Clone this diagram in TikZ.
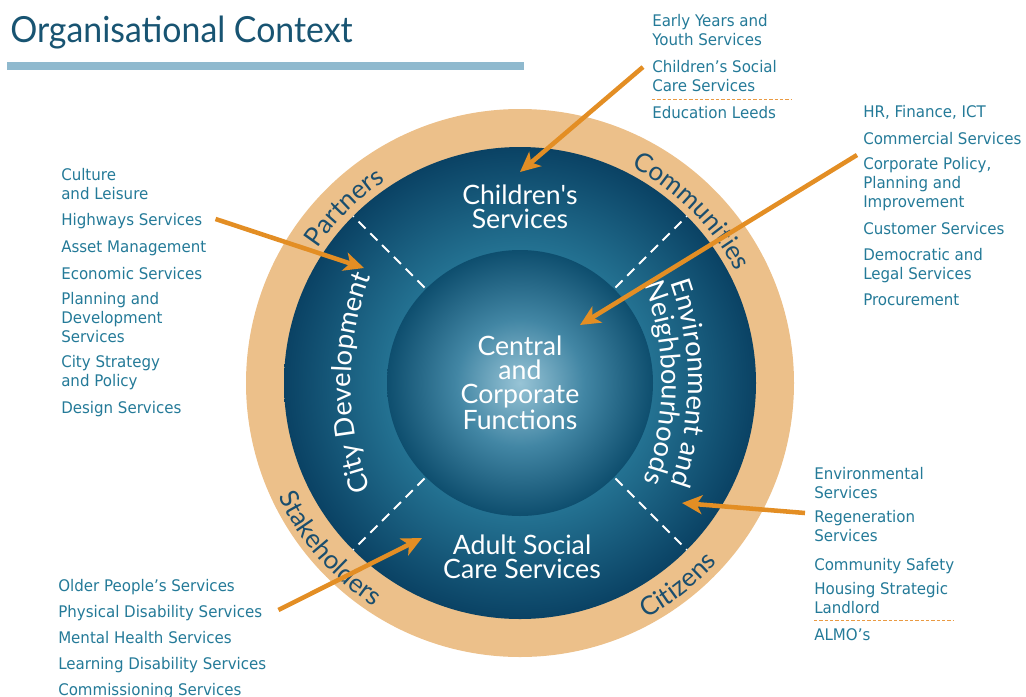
\documentclass[tikz,border=0pt]{standalone}
\usepackage{fontspec}
\usetikzlibrary{arrows.meta,decorations.text}
\newfontfamily\listfont{DejaVu Sans}[FakeStretch=0.94]
\newfontfamily\headfont{Lato}
\newfontfamily\titlefont{Lato}[FakeStretch=0.94]
\definecolor{tanring}{RGB}{236,192,138}
\definecolor{ringdark}{RGB}{10,66,100}
\definecolor{ringlight}{RGB}{36,114,146}
\definecolor{coredark}{RGB}{14,78,110}
\definecolor{coremid}{RGB}{66,134,164}
\definecolor{corelight}{RGB}{152,196,214}
\definecolor{listblue}{RGB}{36,122,152}
\definecolor{titleblue}{RGB}{24,84,114}
\definecolor{ringtext}{RGB}{26,78,110}
\definecolor{barblue}{RGB}{143,185,206}
\definecolor{arroworange}{RGB}{227,142,36}
\definecolor{sepdash}{RGB}{234,154,66}
\pgfdeclareradialshading{bandshade}{\pgfpoint{0bp}{0bp}}{%
  color(0bp)=(ringlight); color(14bp)=(ringlight);
  color(25bp)=(ringdark); color(50bp)=(ringdark)}
\pgfdeclareradialshading{coreshade}{\pgfpoint{0bp}{0bp}}{%
  color(0bp)=(corelight); color(12bp)=(coremid);
  color(25bp)=(coredark); color(50bp)=(coredark)}

\begin{document}
\begin{tikzpicture}[x=0.75pt,y=0.75pt,
    listitem/.style={anchor=base west,inner sep=0pt,align=left,
      font=\listfont\fontsize{12}{13.9}\selectfont,text=listblue},
    unitname/.style={align=center,inner sep=0pt,text=white,
      font=\headfont\fontsize{20}{18}\selectfont},
    feed/.style={arroworange,line width=3.4pt,
      -{Stealth[length=15pt,width=14pt,inset=4pt]}},
    sepline/.style={sepdash,line width=0.7pt,dash pattern=on 2.5pt off 1.5pt},
    ringword/.style={decorate,decoration={text along path,text align=center,
      text color=ringtext,text={|\headfont\fontsize{19.5}{19}\selectfont|#1}}},
    bandword/.style={decorate,decoration={text along path,text align=center,
      text color=white,text={|\headfont\fontsize{20.5}{20}\selectfont|#1}}}]
    \useasboundingbox (0,0) rectangle (1026,-697);

    % heading
    \node[anchor=base west,inner sep=0pt,text=titleblue,
      font=\titlefont\fontsize{27}{30}\selectfont] (title) at (10,-42)
      {Organisational Context};
    \fill[barblue] (7,-62) rectangle (524,-70);

    % the rings
    \coordinate (ctr) at (520,-383);
    \fill[tanring] (ctr) circle[radius=274];
    \shade[shading=bandshade] (ctr) circle[radius=236];
    \shade[shading=coreshade] (ctr) circle[radius=133];
    \foreach \a in {45,135,225,315}
    {
      \draw[white,line width=1.5pt,dash pattern=on 7.5pt off 5pt]
        ([shift={(\a:135)}]ctr) -- ([shift={(\a:236)}]ctr);
    }

    % outer ring words
    \path[ringword=Partners]
      ([shift={(175:243)}]ctr) arc[start angle=175,end angle=95,radius=243];
    \path[ringword=Communities]
      ([shift={(85:243)}]ctr) arc[start angle=85,end angle=5,radius=243];
    \path[ringword=Stakeholders]
      ([shift={(181:267)}]ctr) arc[start angle=181,end angle=261,radius=267];
    \path[ringword=Citizens]
      ([shift={(-92:267)}]ctr) arc[start angle=-92,end angle=-12,radius=267];

    % directorates
    \node[unitname] (child) at (520,-207)
      {Children\textquotesingle s\\Services};
    \node[unitname] (central) at (520,-383)
      {Central\\and\\Corporate\\Functions};
    \node[unitname] (adult) at (522,-557) {Adult Social\\Care Services};
    \coordinate (citybend) at (651,-383);
    \path[bandword={City Development}]
      ([shift={(200:300)}]citybend) arc[start angle=200,end angle=160,radius=300];
    \coordinate (envbend) at (388,-383);
    \path[bandword={Environment and}]
      ([shift={(20:300)}]envbend) arc[start angle=20,end angle=-20,radius=300];
    \path[bandword={Neighbourhoods}]
      ([shift={(21:274)}]envbend) arc[start angle=21,end angle=-21,radius=274];

    % service lists (base = last line)
    \node[listitem] (eyy) at (652,-45.5) {Early Years and\\Youth Services};
    \node[listitem] (csc) at (652,-91.5) {Children’s Social\\Care Services};
    \node[listitem] (edl) at (652,-118) {Education Leeds};
    \draw[sepline] (652,-99) -- (792,-99);

    \node[listitem] (hrf) at (863,-117) {HR, Finance, ICT};
    \node[listitem] (com) at (863,-144) {Commercial Services};
    \node[listitem] (cpp) at (863,-207)
      {Corporate Policy,\\Planning and\\Improvement};
    \node[listitem] (cus) at (863,-234) {Customer Services};
    \node[listitem] (dem) at (863,-279.5) {Democratic and\\Legal Services};
    \node[listitem] (pro) at (863,-305) {Procurement};

    \node[listitem] (cul) at (61,-199.5) {Culture\\and Leisure};
    \node[listitem] (hwy) at (61,-225) {Highways Services};
    \node[listitem] (ast) at (61,-252) {Asset Management};
    \node[listitem] (eco) at (61,-279) {Economic Services};
    \node[listitem] (pds) at (61,-342) {Planning and\\Development\\Services};
    \node[listitem] (csp) at (61,-386.5) {City Strategy\\and Policy};
    \node[listitem] (des) at (61,-413) {Design Services};

    \node[listitem] (ops) at (58,-591) {Older People’s Services};
    \node[listitem] (phd) at (58,-617) {Physical Disability Services};
    \node[listitem] (mhs) at (58,-643) {Mental Health Services};
    \node[listitem] (lds) at (58,-669) {Learning Disability Services};
    \node[listitem] (cms) at (58,-695) {Commissioning Services};

    \node[listitem] (ens) at (814,-498.5) {Environmental\\Services};
    \node[listitem] (rgs) at (814,-541.5) {Regeneration\\Services};
    \node[listitem] (cms2) at (814,-570) {Community Safety};
    \node[listitem] (hsl) at (814,-613.5) {Housing Strategic\\Landlord};
    \node[listitem] (alm) at (814,-640) {ALMO’s};
    \draw[sepline] (814,-620) -- (953,-620);

    % arrows into the rings
    \coordinate (tipchild) at (520,-172);
    \coordinate (tipcentral) at (580,-325);
    \coordinate (tipcity) at (364,-268);
    \coordinate (tipenv) at (682,-503);
    \coordinate (tipadult) at (422,-538);
    \draw[feed] ([shift={(-9,24.5)}]csc.base west) -- (tipchild);
    \draw[feed] ([shift={(-6,52)}]cpp.base west) -- (tipcentral);
    \draw[feed] ([shift={(13,6)}]hwy.base east) -- (tipcity);
    \draw[feed] ([shift={(-9,28.5)}]rgs.base west) -- (tipenv);
    \draw[feed] ([shift={(16,7)}]phd.base east) -- (tipadult);
\end{tikzpicture}
\end{document}
